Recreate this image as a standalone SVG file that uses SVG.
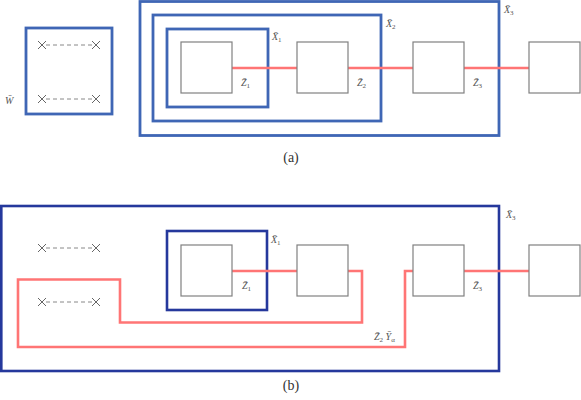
<svg xmlns="http://www.w3.org/2000/svg" width="581" height="400" viewBox="0 0 581 400">
<style>
.bg{fill:#fff}
.blue{fill:none;stroke:#3f66b5;stroke-width:2.8}
.dblue{fill:none;stroke:#25389c;stroke-width:2.6}
.z{fill:#fff;stroke:#808080;stroke-width:1.2}
.red{fill:none;stroke:#ff7575;stroke-width:2.6}
.cross{stroke:#666;stroke-width:1;fill:none}
.dash{stroke:#888;stroke-width:1;stroke-dasharray:4,3;fill:none}
.lbl{font-family:"Liberation Serif","DejaVu Serif",serif;font-style:italic;font-size:10px;fill:#555}
.sub{font-size:7px;font-style:normal}
.cap{font-family:"Liberation Serif","DejaVu Serif",serif;font-size:14px;fill:#333;text-anchor:middle}
</style>
<defs>
<g id="xx">
<path class="cross" d="M-4,-4L4,4M-4,4L4,-4"/>
</g>
</defs>
<rect class="bg" width="581" height="400"/>
<!-- (a) -->
<g id="a-W">
<rect class="blue" x="26" y="28" width="86" height="86"/>
<line class="dash" x1="46" y1="45" x2="92" y2="45"/>
<line class="dash" x1="46" y1="99" x2="92" y2="99"/>
<use href="#xx" x="42" y="45"/><use href="#xx" x="96" y="45"/>
<use href="#xx" x="42" y="99"/><use href="#xx" x="96" y="99"/>
<text class="lbl" x="5" y="104">W̄</text>
</g>
<g id="a-X3"><rect class="blue" x="140" y="1.5" width="359" height="134"/><text class="lbl" x="504" y="13">X̄<tspan class="sub" dy="2">3</tspan></text></g>
<g id="a-X2"><rect class="blue" x="153" y="15" width="228" height="106"/><text class="lbl" x="386" y="27">X̄<tspan class="sub" dy="2">2</tspan></text></g>
<g id="a-X1"><rect class="blue" x="167" y="29" width="101" height="78"/><text class="lbl" x="272" y="40">X̄<tspan class="sub" dy="2">1</tspan></text></g>
<g id="a-conn">
<line class="red" x1="232" y1="68" x2="297" y2="68"/>
<line class="red" x1="348" y1="68" x2="413" y2="68"/>
<line class="red" x1="464" y1="68" x2="529" y2="68"/>
</g>
<g id="a-Z1"><rect class="z" x="181" y="42" width="51" height="51"/><text class="lbl" x="241" y="86">Z̄<tspan class="sub" dy="2">1</tspan></text></g>
<g id="a-Z2"><rect class="z" x="297" y="42" width="51" height="51"/><text class="lbl" x="357" y="86">Z̄<tspan class="sub" dy="2">2</tspan></text></g>
<g id="a-Z3"><rect class="z" x="413" y="42" width="51" height="51"/><text class="lbl" x="473" y="86">Z̄<tspan class="sub" dy="2">3</tspan></text></g>
<g id="a-Z4"><rect class="z" x="529" y="42" width="51" height="51"/></g>
<text class="cap" x="291" y="162">(a)</text>
<!-- (b) -->
<g id="b-X3"><rect class="dblue" x="1.3" y="206" width="497.7" height="165"/><text class="lbl" x="506" y="218">X̄<tspan class="sub" dy="2">3</tspan></text></g>
<g id="b-W">
<line class="dash" x1="46" y1="248" x2="92" y2="248"/>
<line class="dash" x1="46" y1="302" x2="92" y2="302"/>
<use href="#xx" x="42" y="248"/><use href="#xx" x="96" y="248"/>
<use href="#xx" x="42" y="302"/><use href="#xx" x="96" y="302"/>
</g>
<g id="b-X1"><rect class="dblue" x="167" y="231" width="100" height="79"/><text class="lbl" x="271" y="243">X̄<tspan class="sub" dy="2">1</tspan></text></g>
<g id="b-conn">
<line class="red" x1="232" y1="271" x2="297" y2="271"/>
<polyline class="red" points="348,271 362,271 362,322.5 120,322.5 120,279.5 18,279.5 18,347 405,347 405,271 413,271"/>
<line class="red" x1="464" y1="271" x2="529" y2="271"/>
<text class="lbl" x="374" y="340">Z̄<tspan class="sub" dy="2">2</tspan><tspan dy="-2"> Ȳ</tspan><tspan class="sub" dy="2">α</tspan></text>
</g>
<g id="b-Z1"><rect class="z" x="181" y="245" width="51" height="51"/><text class="lbl" x="242" y="289">Z̄<tspan class="sub" dy="2">1</tspan></text></g>
<g id="b-Z2"><rect class="z" x="297" y="245" width="51" height="51"/></g>
<g id="b-Z3"><rect class="z" x="413" y="245" width="51" height="51"/><text class="lbl" x="473" y="289">Z̄<tspan class="sub" dy="2">3</tspan></text></g>
<g id="b-Z4"><rect class="z" x="529" y="245" width="51" height="51"/></g>
<text class="cap" x="291" y="390">(b)</text>
</svg>
